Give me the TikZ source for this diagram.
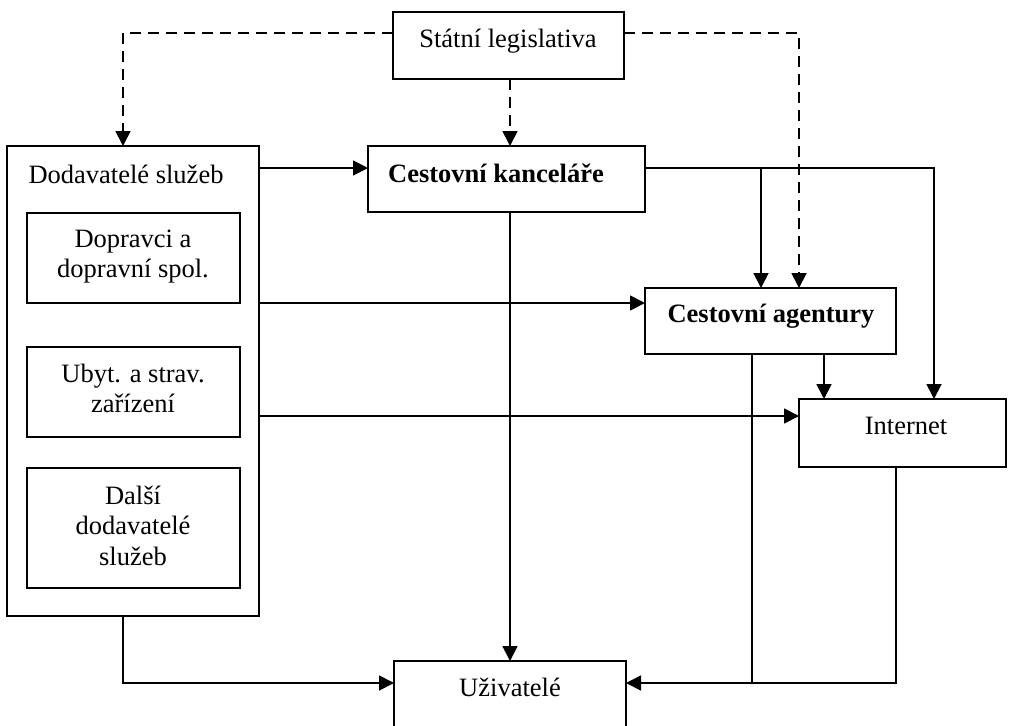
\documentclass[tikz,border=0pt]{standalone}
\usepackage{fontspec}
\setmainfont{Liberation Serif}
\usetikzlibrary{arrows.meta}
\begin{document}
\begin{tikzpicture}[x=1pt,y=-1pt,
  box/.style={draw, line width=1.8pt, rectangle, inner sep=0pt, outer sep=0pt},
  txt/.style={anchor=base, inner sep=0pt, font=\fontsize{26.5}{30.5}\selectfont},
  link/.style={line width=1.8pt},
  arr/.style={link, -{Triangle[length=15pt,width=15pt]}},
  dsh/.style={arr, dash pattern=on 11pt off 7pt},
]
\useasboundingbox (0,0) rectangle (1011,725);

% boxes
\node[box, minimum width=231pt, minimum height=67pt]  (sl) at (508.5,45.5) {};
\node[box, minimum width=252pt, minimum height=470pt] (ds) at (133,381) {};
\node[box, minimum width=213pt, minimum height=90pt]  (d1) at (133.5,258) {};
\node[box, minimum width=213pt, minimum height=90pt]  (d2) at (133.5,392) {};
\node[box, minimum width=213pt, minimum height=120pt] (d3) at (133.5,528) {};
\node[box, minimum width=277pt, minimum height=66pt]  (kk) at (506.5,179) {};
\node[box, minimum width=251pt, minimum height=66pt]  (ca) at (770.5,321) {};
\node[box, minimum width=207pt, minimum height=68pt]  (in) at (902.5,433) {};
\node[box, minimum width=232pt, minimum height=78pt]  (uz) at (510,700) {};

% labels
\node[txt] (tsl) at (508,48) {Státní legislativa};
\node[txt] (tds) at (126,183) {Dodavatelé služeb};
\node[txt] (td1) at (133,247) {\begin{tabular}[t]{@{}c@{}}Dopravci a\\dopravní spol.\end{tabular}};
\node[txt] (td2) at (133,382) {\begin{tabular}[t]{@{}c@{}}Ubyt. a strav.\\zařízení\end{tabular}};
\node[txt] (td3) at (133,504) {\begin{tabular}[t]{@{}c@{}}Další\\dodavatelé\\služeb\end{tabular}};
\node[txt] (tkk) at (496,182) {\textbf{Cestovní kanceláře}};
\node[txt] (tca) at (771,322) {\textbf{Cestovní agentury}};
\node[txt] (tin) at (906,434) {Internet};
\node[txt] (tuz) at (510,696) {Uživatelé};

% connector lanes
\coordinate (xa) at (123,0);
\coordinate (xk) at (510,0);
\coordinate (xb) at (761,0);
\coordinate (xe) at (799,0);
\coordinate (xc) at (824,0);
\coordinate (xi) at (934,0);
\coordinate (xg) at (752,0);
\coordinate (xf) at (896,0);
\coordinate (yd) at (0,33);
\coordinate (y1) at (0,168);
\coordinate (y2) at (0,303);
\coordinate (y3) at (0,416);
\coordinate (yu) at (0,683);

% legislation (dashed)
\draw[dsh] (sl.west |- yd) -| (ds.north -| xa);
\draw[dsh] (sl.south -| xk) -- (kk.north -| xk);
\draw[dsh] (sl.east |- yd) -| (ca.north -| xe);

% supplier flows
\draw[arr] (ds.east |- y1) -- (kk.west |- y1);
\draw[arr] (ds.east |- y2) -- (ca.west |- y2);
\draw[arr] (ds.east |- y3) -- (in.west |- y3);
\draw[arr] (ds.south -| xa) |- (uz.west |- yu);

% tour operator flows
\draw[arr] (kk.east |- y1) -| (in.north -| xi);
\coordinate (kb) at (xb |- y1);
\draw[arr] (kb) -- (ca.north -| xb);
\draw[arr] (kk.south -| xk) -- (uz.north -| xk);

% agency and internet flows
\draw[arr] (ca.south -| xc) -- (in.north -| xc);
\coordinate (cj) at (xg |- yu);
\draw[link] (ca.south -| xg) -- (cj);
\draw[arr] (in.south -| xf) |- (uz.east |- yu);
\end{tikzpicture}
\end{document}
